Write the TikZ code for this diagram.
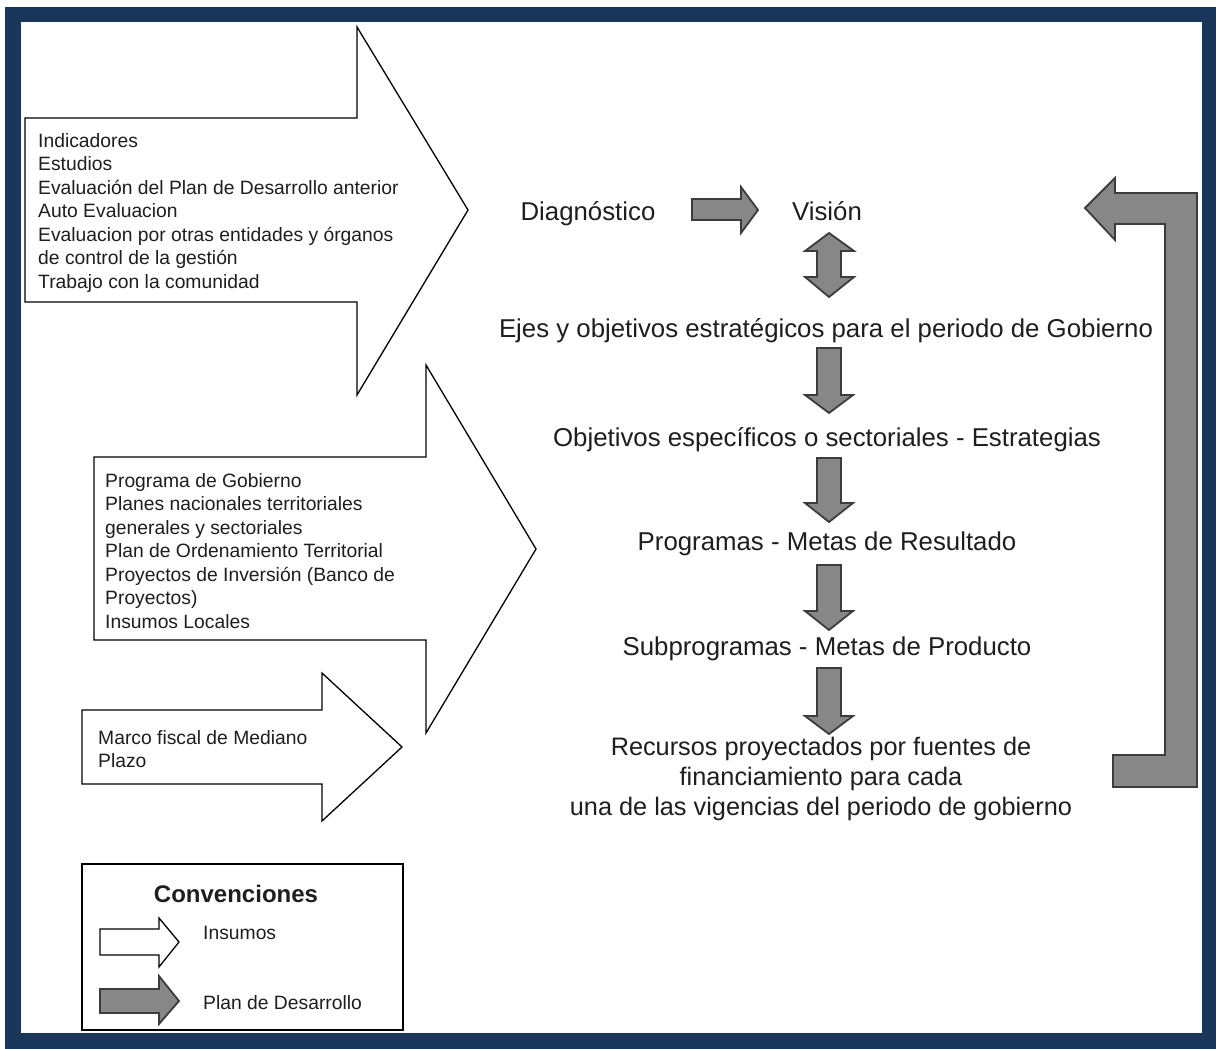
\documentclass[tikz,border=0pt]{standalone}
\usepackage{fontspec}
\setmainfont{Liberation Sans}
\definecolor{frameblue}{HTML}{1A365B}
\definecolor{plangray}{HTML}{878787}
\definecolor{planedge}{HTML}{3C3C3C}
\definecolor{txt}{HTML}{1E1E1E}
\begin{document}
\begin{tikzpicture}[x=1pt,y=-1pt,
  insumo/.style={draw=black, fill=white, line width=1.3pt, line join=miter},
  plan/.style={draw=planedge, fill=plangray, line width=1.8pt, line join=miter},
  small/.style={font=\fontsize{19.3}{23.5}\selectfont, align=left, inner sep=0pt, text=txt},
  big/.style={font=\fontsize{25.8}{30}\selectfont, align=center, inner sep=0pt, text=txt}]
\useasboundingbox (0,0) rectangle (1216,1049);
\fill[white] (0,0) rectangle (1216,1049);
\fill[frameblue] (5,7) rectangle (1216,1049);
\fill[white] (21,22) rectangle (1202,1033);

% input arrows (insumos)
\draw[insumo] (25,118) -- (357,118) -- (357,27) -- (468,210) -- (357,395) -- (357,302) -- (25,302) -- cycle;
\draw[insumo] (94,457) -- (426,457) -- (426,365) -- (536,549) -- (426,733) -- (426,640) -- (94,640) -- cycle;
\draw[insumo] (82,710) -- (322,710) -- (322,673) -- (402,747) -- (322,821) -- (322,784) -- (82,784) -- cycle;

\node[small, anchor=north west] (in1) at (38,133) {Indicadores\\Estudios\\Evaluación del Plan de Desarrollo anterior\\Auto Evaluacion\\Evaluacion por otras entidades y órganos\\de control de la gestión\\Trabajo con la comunidad};
\node[small, anchor=north west] (in2) at (105,473) {Programa de Gobierno\\Planes nacionales territoriales\\generales y sectoriales\\Plan de Ordenamiento Territorial\\Proyectos de Inversión (Banco de\\Proyectos)\\Insumos Locales};
\node[small, anchor=north west] (in3) at (98,730) {Marco fiscal de Mediano\\Plazo};

% central chain
\node[big, anchor=base] (diag) at (588,220) {Diagnóstico};
\node[big, anchor=base] (vision) at (827,220) {Visión};
\node[big, anchor=base] (ejes) at (826,337) {Ejes y objetivos estratégicos para el periodo de Gobierno};
\node[big, anchor=base] (obj) at (827,446) {Objetivos específicos o sectoriales - Estrategias};
\node[big, anchor=base] (prog) at (827,550) {Programas - Metas de Resultado};
\node[big, anchor=base] (sub) at (827,655) {Subprogramas - Metas de Producto};
\node[big, font=\fontsize{25.3}{30}\selectfont, anchor=north] (rec) at (821,737) {Recursos proyectados por fuentes de\\financiamiento para cada\\una de las vigencias del periodo de gobierno};

% plan arrows
\draw[plan] (692,199) -- (741,199) -- (741,187) -- (758,210) -- (741,233) -- (741,220) -- (692,220) -- cycle;
\draw[plan] (829,233) -- (854,251) -- (841,251) -- (841,277) -- (854,277) -- (829,297) -- (805,277) -- (817,277) -- (817,251) -- (805,251) -- cycle;
\draw[plan] (817,348) -- (841,348) -- (841,395) -- (853,395) -- (829,413) -- (805,395) -- (817,395) -- cycle;
\draw[plan] (817,458) -- (841,458) -- (841,503) -- (853,503) -- (829,522) -- (805,503) -- (817,503) -- cycle;
\draw[plan] (817,565) -- (841,565) -- (841,611) -- (853,611) -- (829,630) -- (805,611) -- (817,611) -- cycle;
\draw[plan] (817,668) -- (841,668) -- (841,716) -- (853,716) -- (829,734) -- (805,716) -- (817,716) -- cycle;
\draw[plan] (1085,208) -- (1115,178) -- (1115,193) -- (1197,193) -- (1197,787) -- (1113,787) -- (1113,755) -- (1165,755) -- (1165,224) -- (1115,224) -- (1115,240) -- cycle;

% legend
\draw[black, line width=1.3pt] (82,864) rectangle (403,1030);
\node[font=\bfseries\fontsize{24}{28}\selectfont, inner sep=0pt, anchor=base, text=txt] (conv) at (236,902) {Convenciones};
\draw[insumo] (100,929) -- (159,929) -- (159,918) -- (179,942) -- (159,967) -- (159,955) -- (100,955) -- cycle;
\draw[plan] (100,989) -- (159,989) -- (159,976) -- (179,1001) -- (159,1024) -- (159,1013) -- (100,1013) -- cycle;
\node[small, anchor=base west] (lgi) at (203,939) {Insumos};
\node[small, anchor=base west] (lgp) at (203,1009) {Plan de Desarrollo};
\end{tikzpicture}
\end{document}
